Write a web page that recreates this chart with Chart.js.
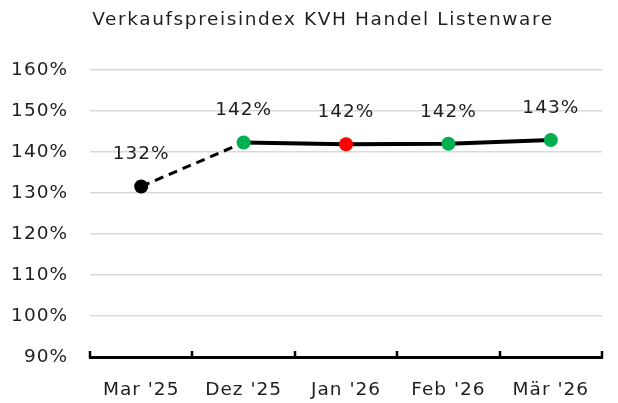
<!DOCTYPE html>
<html>
<head>
<meta charset="utf-8">
<script src="https://cdn.jsdelivr.net/npm/chart.js@4/dist/chart.umd.min.js"></script>
<style>
  html, body { margin: 0; padding: 0; background: #fff; }
  #wrap { width: 618px; height: 403px; }
</style>
</head>
<body>
<div id="wrap"><canvas id="main_chart"></canvas></div>
<script>
const categories = ["Mar '25", "Dez '25", "Jan '26", "Feb '26", "Mär '26"];
const indexValues = [131.6, 142.3, 141.9, 142.0, 142.9];
const valueLabels = ["132%", "142%", "142%", "142%", "143%"];
const pointColors = ["#000000", "#00b050", "#ff0000", "#00b050", "#00b050"];
const yTicks = [90, 100, 110, 120, 130, 140, 150, 160];
const chartTitle = 'Verkaufspreisindex KVH Handel Listenware';

const fontFamily = "'DejaVu Sans', sans-serif";
const fontSize = 18.5;
const textColor = '#1f1f1f';

// wider letters to get closer to the original font
const spacingPlugin = {
  id: 'spacing',
  beforeDraw(chart) {
    chart.ctx.letterSpacing = '1px';
  }
};

// title drawn by hand so it can sit where the original is
const titlePlugin = {
  id: 'ownTitle',
  afterDraw(chart) {
    const ctx = chart.ctx;
    ctx.save();
    ctx.letterSpacing = '1.6px';
    ctx.font = `${fontSize}px ${fontFamily}`;
    ctx.fillStyle = textColor;
    ctx.textAlign = 'center';
    ctx.textBaseline = 'middle';
    ctx.fillText(chartTitle, 323, 20);
    ctx.restore();
  }
};

// labels above each point
const valueLabelPlugin = {
  id: 'valueLabels',
  afterDatasetsDraw(chart) {
    const ctx = chart.ctx;
    const meta = chart.getDatasetMeta(0);
    ctx.save();
    ctx.letterSpacing = '1px';
    ctx.font = `${fontSize}px ${fontFamily}`;
    ctx.fillStyle = textColor;
    ctx.textAlign = 'center';
    ctx.textBaseline = 'middle';
    meta.data.forEach((pt, i) => {
      ctx.fillText(valueLabels[i], pt.x, pt.y - 32);
    });
    ctx.restore();
  }
};

// tick marks pointing up from the x axis, between categories
const axisTickPlugin = {
  id: 'axisTicks',
  afterDraw(chart) {
    const x = chart.scales.x;
    const ctx = chart.ctx;
    const bottom = chart.chartArea.bottom;
    const half = (x.getPixelForValue(1) - x.getPixelForValue(0)) / 2;
    ctx.save();
    ctx.strokeStyle = '#000';
    ctx.lineWidth = 2.5;
    for (let i = 0; i <= categories.length; i++) {
      const px = Math.round(x.getPixelForValue(0) - half + i * half * 2);
      ctx.beginPath();
      ctx.moveTo(px, bottom + 1);
      ctx.lineTo(px, bottom - 6);
      ctx.stroke();
    }
    ctx.restore();
  }
};

new Chart(document.getElementById('main_chart'), {
  type: 'line',
  data: {
    labels: categories,
    datasets: [{
      data: indexValues,
      borderColor: '#000',
      borderWidth: 4,
      pointRadius: 7,
      pointHoverRadius: 7,
      pointBackgroundColor: pointColors,
      pointBorderWidth: 0,
      tension: 0,
      segment: {
        // first segment is dashed
        borderDash: c => c.p0DataIndex === 0 ? [9, 6] : undefined,
        borderWidth: c => c.p0DataIndex === 0 ? 3 : 4
      }
    }]
  },
  options: {
    responsive: true,
    maintainAspectRatio: false,
    animation: false,
    layout: { padding: { left: 0, right: 16, top: 70, bottom: 0 } },
    plugins: {
      legend: { display: false },
      tooltip: { enabled: false },
      title: { display: false }
    },
    scales: {
      x: {
        offset: true,
        grid: { display: false, drawTicks: false },
        border: { display: true, color: '#000', width: 3 },
        ticks: {
          color: textColor,
          font: { family: fontFamily, size: fontSize },
          padding: 22
        },
        afterFit: axis => { axis.height = 46; }
      },
      y: {
        min: 90,
        max: 160,
        afterBuildTicks: axis => { axis.ticks = yTicks.map(v => ({ value: v })); },
        grid: {
          color: c => c.tick && c.tick.value === 90 ? 'rgba(0,0,0,0)' : '#d9d9d9',
          lineWidth: 1.5,
          drawTicks: false
        },
        border: { display: false },
        ticks: {
          color: textColor,
          font: { family: fontFamily, size: fontSize },
          padding: 22,
          callback: v => v + '%'
        },
        afterFit: axis => { axis.width = 90; }
      }
    }
  },
  plugins: [spacingPlugin, valueLabelPlugin, axisTickPlugin, titlePlugin]
});
</script>
</body>
</html>
